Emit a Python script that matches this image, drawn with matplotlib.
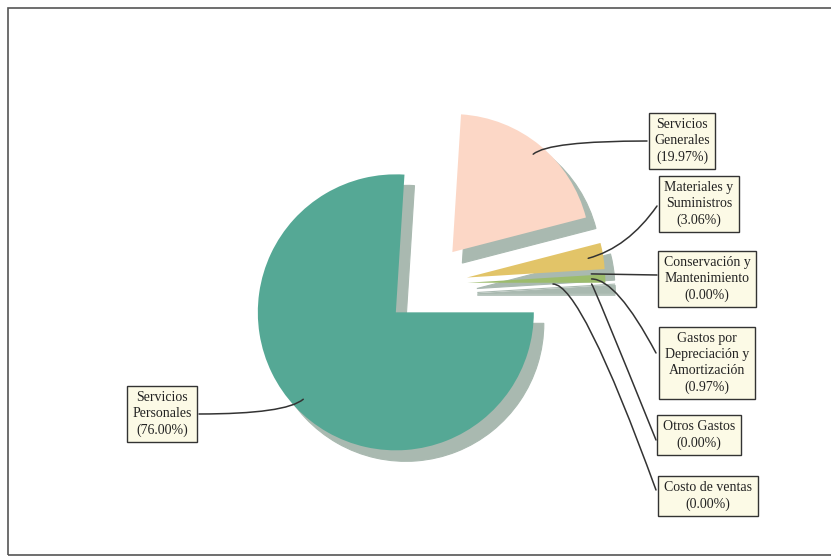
import numpy as np
import matplotlib.pyplot as plt
from matplotlib.patches import Rectangle

# ================= data ===================
labels = ['Servicios\nGenerales', 'Materiales y\nSuministros', 'Conservación y\nMantenimiento',
          'Gastos por\nDepreciación y\nAmortización', 'Otros Gastos', 'Costo de ventas',
          'Servicios\nPersonales']
values = [19.97, 3.06, 0.00, 0.97, 0.00, 0.00, 76.00]
colors = ['#fcd7c6', '#e2c468', '#9cbc6c', '#9cbc6c', '#9cbc6c', '#9cbc6c', '#55a895']
shadow_color = '#a9b9b0'

# ================= layout (screen pixels, origin top-left) ===================
W, H = 831, 557
R = 138.0                       # pie radius in px
cx, cy = 426, 284               # pie centre
text_pos = [(682, 141), (699, 204), (707, 279), (707, 363), (699, 435), (708, 496), (162, 414)]
edge_pos = [(647, 141), (657, 206), (657, 275), (656, 353), (656, 440), (656, 490), (199, 414)]
anchor_frac = [0.92, 0.89, 0.90, 0.90, 0.90, 0.62, 0.92]
conn = ['angle3,angleA=0,angleB=40', 'angle3,angleA=55,angleB=15', 'arc3,rad=0',
        'angle3,angleA=-62,angleB=0', 'angle3,angleA=-68,angleB=0',
        'angle3,angleA=-70,angleB=0', 'angle3,angleA=0,angleB=40']


def fig_px(p):
    return (p[0], H - p[1])


fig = plt.figure(figsize=(W / 100, H / 100), dpi=100)
ax = fig.add_axes([0, 0, 1, 1])

explode = [0.3] * len(values)
# shadow pie, offset down-right
ax.pie(values, explode=explode, startangle=86.4, counterclock=False,
       colors=[shadow_color] * len(values), center=(10 / R, -11 / R),
       wedgeprops=dict(linewidth=0.8, edgecolor=shadow_color))
wedges, _ = ax.pie(values, explode=explode, startangle=86.4, counterclock=False,
                   colors=colors, wedgeprops=dict(linewidth=0))

ax.set_xlim(-cx / R, (W - cx) / R)
ax.set_ylim(-(H - cy) / R, cy / R)
ax.set_aspect('auto')
ax.axis('off')

for i, w in enumerate(wedges):
    pct = values[i]
    ax.text(*fig_px(text_pos[i]), f'{labels[i]}\n({pct:.2f}%)', transform=None,
            ha='center', va='center', multialignment='center', linespacing=1.3,
            fontsize=10, family='Liberation Serif', color='#222222',
            bbox=dict(boxstyle='square,pad=0.4', fc='#fcfae6', ec='#333333', lw=1.0))
    mid = np.deg2rad((w.theta1 + w.theta2) / 2)
    ax_x = w.center[0] + anchor_frac[i] * w.r * np.cos(mid)
    ax_y = w.center[1] + anchor_frac[i] * w.r * np.sin(mid)
    ax.annotate('', xy=(ax_x, ax_y), xytext=fig_px(edge_pos[i]), textcoords='figure pixels',
                arrowprops=dict(arrowstyle='-', connectionstyle=conn[i], shrinkA=0, shrinkB=0,
                                lw=1.1, color='#333333'))

# outer frame (open on the right)
fig.patches.append(Rectangle((8 / W, 2 / H), 1.1, (555 - 8) / H, transform=fig.transFigure,
                             fill=False, ec='#555555', lw=1.2))

fig.savefig('out.png', dpi=100)
